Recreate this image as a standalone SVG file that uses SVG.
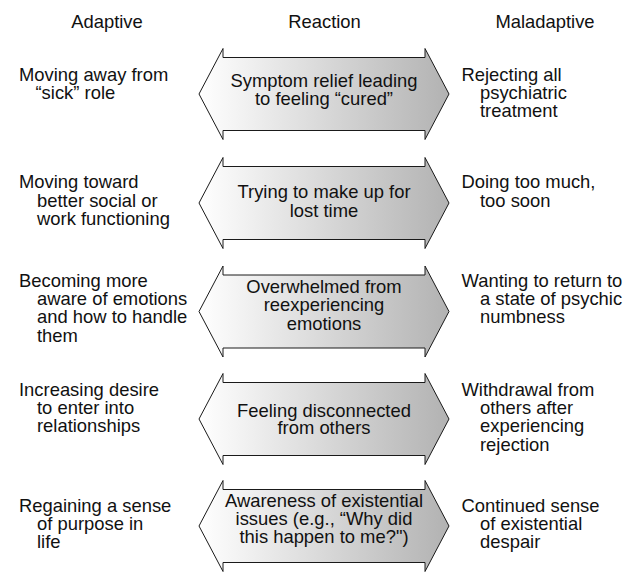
<svg xmlns="http://www.w3.org/2000/svg" width="644" height="588" viewBox="0 0 644 588">
<defs>
<linearGradient id="g" x1="0" y1="0" x2="1" y2="0">
<stop offset="0" stop-color="#ffffff"/>
<stop offset="1" stop-color="#b2b2b2"/>
</linearGradient>
<polygon id="arrow" points="199,0 223,-45.5 223,-36.5 425,-36.5 425,-45.5 449,0 425,45.5 425,36.5 223,36.5 223,45.5"/>
</defs>
<style>
text{font-family:"Liberation Sans",Arial,sans-serif;font-size:18.4px;fill:#111}
.c{text-anchor:middle}
.a{fill:url(#g);stroke:#1a1a1a;stroke-width:1;stroke-linejoin:miter}
</style>
<rect width="644" height="588" fill="#fff"/>
<g id="headers">
<text class="c" x="107" y="28.3">Adaptive</text>
<text class="c" x="324.5" y="28.3">Reaction</text>
<text class="c" x="545" y="28.3">Maladaptive</text>
</g>
<g id="connectors">
<use href="#arrow" class="a" transform="translate(0,94)"/>
<use href="#arrow" class="a" transform="translate(0,203)"/>
<use href="#arrow" class="a" transform="translate(0,311.5)"/>
<use href="#arrow" class="a" transform="translate(0,419)"/>
<use href="#arrow" class="a" transform="translate(0,526)"/>
</g>
<g id="row1">
<text x="19" y="81">Moving away from</text>
<text x="35.5" y="99">“sick” role</text>
<text class="c" x="324" y="86.7">Symptom relief leading</text>
<text class="c" x="324" y="105">to feeling “cured”</text>
<text x="461.5" y="81">Rejecting all</text>
<text x="480" y="99">psychiatric</text>
<text x="480" y="117">treatment</text>
</g>
<g id="row2">
<text x="19" y="188.3">Moving toward</text>
<text x="37" y="206.7">better social or</text>
<text x="37" y="225">work functioning</text>
<text class="c" x="324" y="198.3">Trying to make up for</text>
<text class="c" x="324" y="216.7">lost time</text>
<text x="461.5" y="188.3">Doing too much,</text>
<text x="480" y="206.7">too soon</text>
</g>
<g id="row3">
<text x="19" y="286.7">Becoming more</text>
<text x="37" y="305">aware of emotions</text>
<text x="37" y="323.3">and how to handle</text>
<text x="37" y="341.7">them</text>
<text class="c" x="324" y="292.7">Overwhelmed from</text>
<text class="c" x="324" y="311">reexperiencing</text>
<text class="c" x="324" y="329.7">emotions</text>
<text x="461.5" y="286.7">Wanting to return to</text>
<text x="480" y="305">a state of psychic</text>
<text x="480" y="323.3">numbness</text>
</g>
<g id="row4">
<text x="19" y="395.7">Increasing desire</text>
<text x="37" y="414">to enter into</text>
<text x="37" y="432.3">relationships</text>
<text class="c" x="324" y="416.7">Feeling disconnected</text>
<text class="c" x="324" y="434.3">from others</text>
<text x="461.5" y="395.7">Withdrawal from</text>
<text x="480" y="414">others after</text>
<text x="480" y="432.3">experiencing</text>
<text x="480" y="450.7">rejection</text>
</g>
<g id="row5">
<text x="19" y="511.7">Regaining a sense</text>
<text x="37" y="530">of purpose in</text>
<text x="37" y="548.3">life</text>
<text class="c" x="324" y="506.7">Awareness of existential</text>
<text class="c" x="324" y="525">issues (e.g., “Why did</text>
<text class="c" x="324" y="543.3">this happen to me?")</text>
<text x="461.5" y="511.7">Continued sense</text>
<text x="480" y="530">of existential</text>
<text x="480" y="548.3">despair</text>
</g>
</svg>
